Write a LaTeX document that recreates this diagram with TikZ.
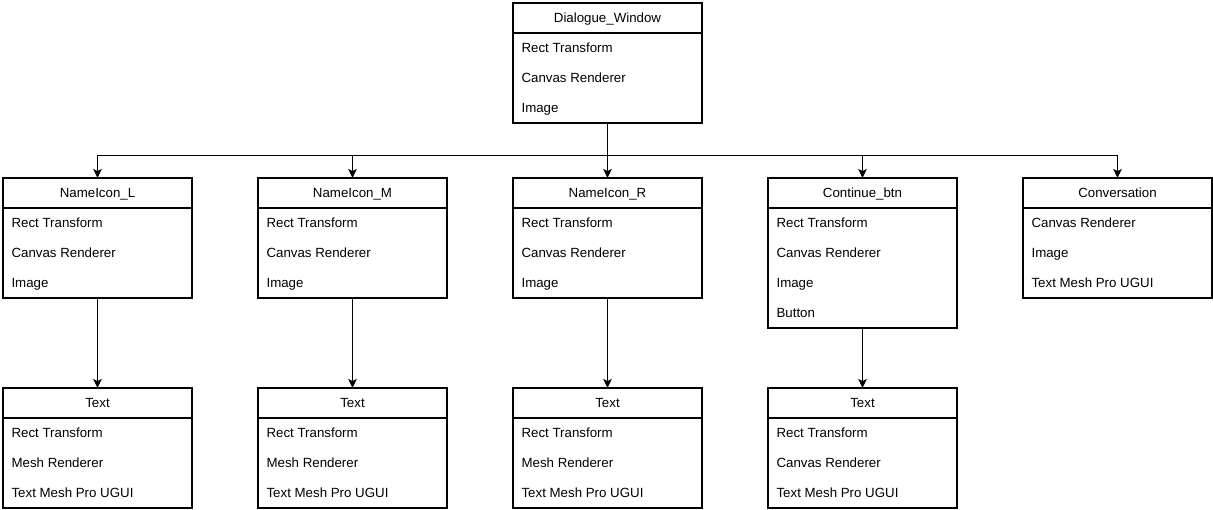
\documentclass[tikz,border=0pt]{standalone}
\usepackage{fontspec}
\setmainfont{Liberation Sans}
\usetikzlibrary{arrows.meta,positioning}

\newcommand{\boxfont}{\fontsize{13.3}{16}\selectfont}

% component box: name, centre x, top y, title, number of rows, rows
\newcommand{\comp}[6]{%
  \node[head, anchor=north] (#1) at (#2,#3) {#4};
  \node[body, minimum height=#5*30pt, below=0pt of #1] (#1b) {};
  \foreach \t [count=\i] in {#6} {
    \node[item] (#1-\i) at ([xshift=8pt, yshift=15pt-\i*30pt]#1b.north west) {\t};
  }
}

\begin{document}
\begin{tikzpicture}[x=1pt, y=-1pt, line width=1.1pt,
  head/.style={draw, minimum width=189pt, minimum height=30pt, inner sep=0pt,
    outer sep=0pt, font=\boxfont, text height=9.5pt, text depth=0pt},
  body/.style={draw, minimum width=189pt, inner sep=0pt, outer sep=0pt},
  item/.style={anchor=west, inner sep=0pt, font=\boxfont, text height=9.5pt,
    text depth=0pt},
  link/.style={-{Stealth[length=9pt, width=8.5pt, inset=2pt]}}]
  \useasboundingbox (0,0) rectangle (1213,509);

  % root
  \comp{dw}{607.5}{3}{Dialogue\_Window}{3}{Rect Transform, Canvas Renderer, Image}

  % children
  \comp{nl}{97.5}{178}{NameIcon\_L}{3}{Rect Transform, Canvas Renderer, Image}
  \comp{nm}{352.5}{178}{NameIcon\_M}{3}{Rect Transform, Canvas Renderer, Image}
  \comp{nr}{607.5}{178}{NameIcon\_R}{3}{Rect Transform, Canvas Renderer, Image}
  \comp{cb}{862.5}{178}{Continue\_btn}{4}{Rect Transform, Canvas Renderer, Image, Button}
  \comp{cv}{1117.5}{178}{Conversation}{3}{Canvas Renderer, Image, Text Mesh Pro UGUI}

  % text objects
  \comp{tl}{97.5}{388}{Text}{3}{Rect Transform, Mesh Renderer, Text Mesh Pro UGUI}
  \comp{tm}{352.5}{388}{Text}{3}{Rect Transform, Mesh Renderer, Text Mesh Pro UGUI}
  \comp{tr}{607.5}{388}{Text}{3}{Rect Transform, Mesh Renderer, Text Mesh Pro UGUI}
  \comp{tc}{862.5}{388}{Text}{3}{Rect Transform, Canvas Renderer, Text Mesh Pro UGUI}

  % connectors
  \coordinate (bus) at (607.5,155.5);
  \foreach \c in {nl, nm, nr, cb, cv} {
    \draw[link] (dwb.south) -- (dwb.south |- bus) -| (\c.north);
  }
  \foreach \a/\b in {nl/tl, nm/tm, nr/tr, cb/tc} {
    \draw[link] (\a b.south) -- (\b.north);
  }
\end{tikzpicture}
\end{document}
